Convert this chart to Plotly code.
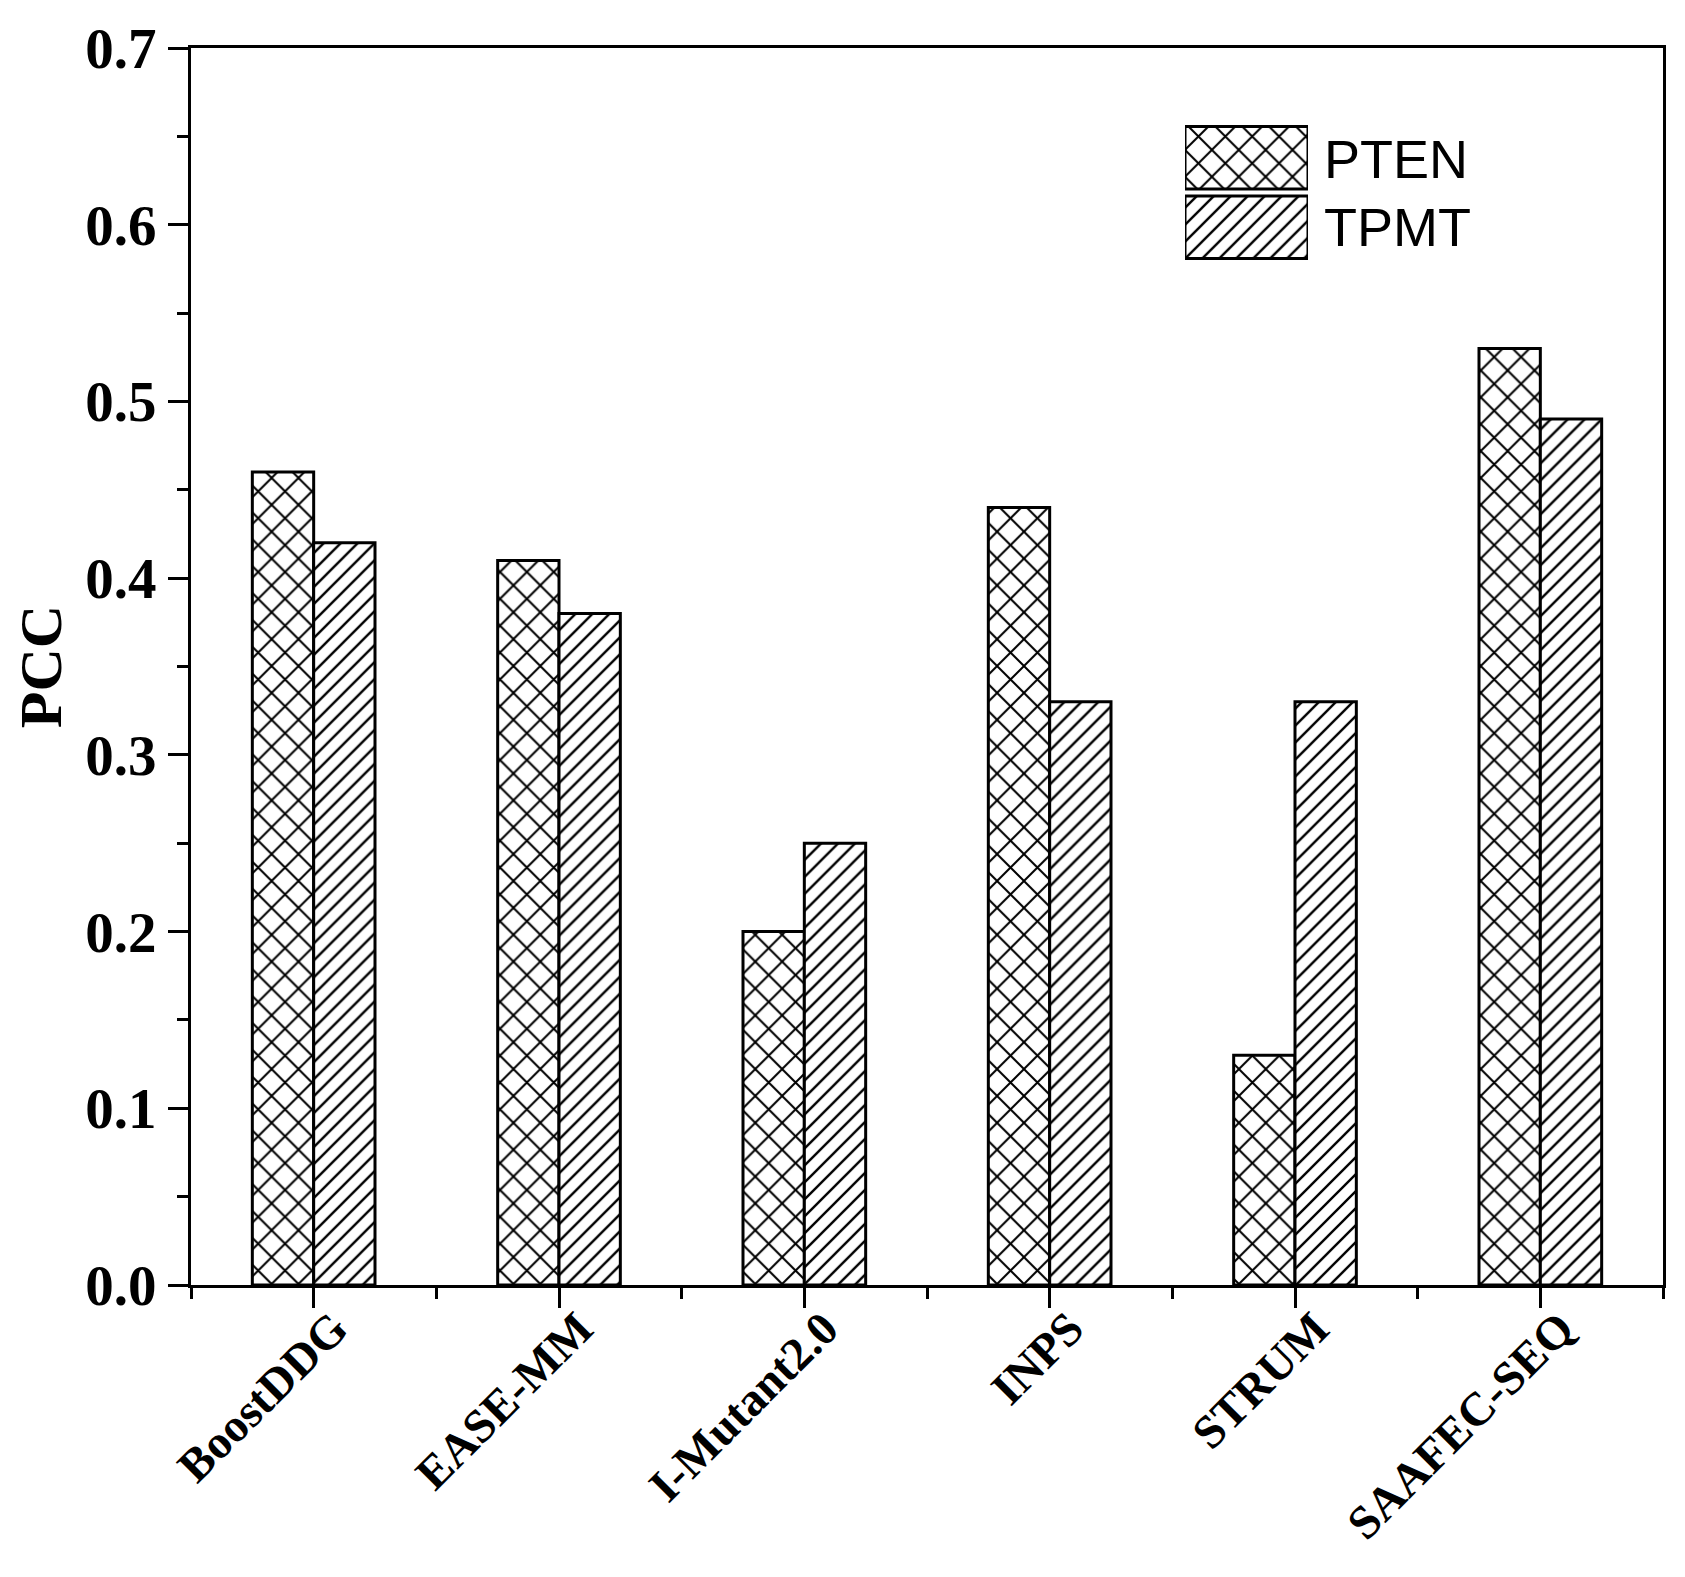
import plotly.graph_objects as go

categories = ["BoostDDG", "EASE-MM", "I-Mutant2.0", "INPS", "STRUM", "SAAFEC-SEQ"]
pten = [0.46, 0.41, 0.20, 0.44, 0.13, 0.53]
tpmt = [0.42, 0.38, 0.25, 0.33, 0.33, 0.49]
series_names = ["PTEN", "TPMT"]
ytick_vals = [0.0, 0.1, 0.2, 0.3, 0.4, 0.5, 0.6, 0.7]

# page body has an 8px default margin; compensate so the chart lands where the reference has it
OFF = 8
W, H = 1685 - OFF, 1577 - OFF
L, T = 191 - OFF, 48 - OFF
R = W - (1663 - OFF)
B = H - (1285 - OFF)
pw, ph = W - L - R, H - T - B

xpos = list(range(len(categories)))
serif = "Liberation Serif"

pat_x = dict(shape="x", size=19, solidity=0.2, fgcolor="black", bgcolor="white", fillmode="replace")
pat_d = dict(shape="/", size=12, solidity=0.2, fgcolor="black", bgcolor="white", fillmode="replace")

fig = go.Figure()
fig.add_trace(go.Bar(x=xpos, y=pten, name=series_names[0], showlegend=False,
                     marker=dict(color="white", pattern=pat_x, line=dict(color="black", width=3))))
fig.add_trace(go.Bar(x=xpos, y=tpmt, name=series_names[1], showlegend=False,
                     marker=dict(color="white", pattern=pat_d, line=dict(color="black", width=3))))

# legend swatches drawn on an auxiliary axis pair
fig.add_trace(go.Bar(x=[1], y=[1], orientation="h", width=0.9, xaxis="x2", yaxis="y2", showlegend=False,
                     hoverinfo="skip",
                     marker=dict(color="white", pattern=pat_x, line=dict(color="black", width=3))))
fig.add_trace(go.Bar(x=[1], y=[0], orientation="h", width=0.9, xaxis="x2", yaxis="y2", showlegend=False,
                     hoverinfo="skip",
                     marker=dict(color="white", pattern=pat_d, line=dict(color="black", width=3))))

def fx(px):
    return (px - OFF - L) / pw

def fy(py):
    return (H - B - (py - OFF)) / ph

fig.update_layout(
    width=W, height=H,
    margin=dict(l=L, r=R, t=T, b=B, autoexpand=False),
    paper_bgcolor="white", plot_bgcolor="white",
    barmode="group", bargap=0.5, bargroupgap=0,
    xaxis=dict(range=[-0.5, 5.5], tickvals=xpos, ticktext=categories, tickangle=-45,
               automargin=False, ticklabelstandoff=-26, ticklabelshift=20,
               ticks="outside", ticklen=20, tickwidth=3, tickcolor="black",
               showline=True, linecolor="black", linewidth=3, mirror=True,
               showgrid=False, zeroline=False,
               minor=dict(tick0=0.5, dtick=1, ticks="outside", ticklen=11, tickwidth=3, tickcolor="black"),
               tickfont=dict(family=serif, size=47, color="black", weight="bold")),
    yaxis=dict(range=[0, 0.7], tickvals=ytick_vals, tickformat=".1f",
               automargin=False,
               ticks="outside", ticklen=20, tickwidth=3, tickcolor="black",
               showline=True, linecolor="black", linewidth=3, mirror=True,
               showgrid=False, zeroline=False,
               minor=dict(dtick=0.05, tick0=0, ticks="outside", ticklen=11, tickwidth=3, tickcolor="black"),
               tickfont=dict(family=serif, size=57, color="black", weight="bold"),
               title=dict(text="PCC", standoff=12, font=dict(family=serif, size=60, color="black", weight="bold"))),
    xaxis2=dict(domain=[fx(1185), fx(1308)], range=[0, 1], visible=False, anchor="y2"),
    yaxis2=dict(domain=[fy(262), fy(123)], range=[-0.5, 1.5], visible=False, anchor="x2"),
    font=dict(family=serif, color="black"),
)

fig.add_annotation(text=series_names[0], x=fx(1322), y=fy(159), xref="paper", yref="paper",
                   xanchor="left", yanchor="middle", showarrow=False,
                   font=dict(family="Liberation Sans", size=54, color="black"))
fig.add_annotation(text=series_names[1], x=fx(1322), y=fy(227), xref="paper", yref="paper",
                   xanchor="left", yanchor="middle", showarrow=False,
                   font=dict(family="Liberation Sans", size=54, color="black"))

fig.write_html("out.html")
